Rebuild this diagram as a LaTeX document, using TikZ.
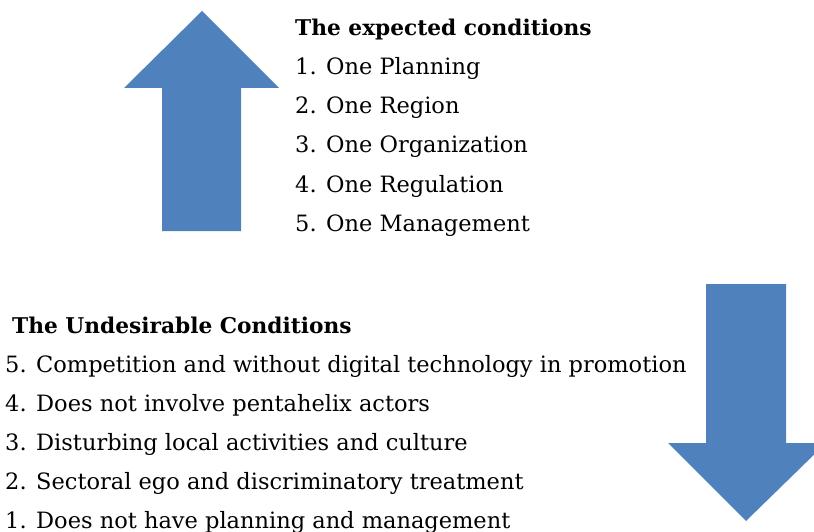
\documentclass[tikz,border=0pt]{standalone}
\usepackage{fontspec}
\setmainfont{DejaVu Serif}
\definecolor{arrowblue}{HTML}{4F81BD}
\tikzset{
  bigarrow/.style={fill=arrowblue, draw=none},
  txt/.style={anchor=base west, inner sep=0pt, font=\fontsize{22.5}{27}\selectfont},
  head/.style={txt, font=\fontsize{21.7}{26}\selectfont\bfseries},
}
\begin{document}
\begin{tikzpicture}[x=1pt,y=-1pt]
\useasboundingbox (0,0) rectangle (814,532);
% up arrow
\path[bigarrow] (202,11) -- (279,88) -- (241,88) -- (241,231) -- (162,231) -- (162,88) -- (124,88) -- cycle;
% down arrow
\path[bigarrow] (706,284) -- (786,284) -- (786,443) -- (826,443) -- (746,521) -- (668,443) -- (706,443) -- cycle;
% top text
\node[head] (h1) at (295,36) {The expected conditions};
\node[txt] (e1) at (295,75) {1. One Planning};
\node[txt] (e2) at (295,114) {2. One Region};
\node[txt] (e3) at (295,153) {3. One Organization};
\node[txt] (e4) at (295,192) {4. One Regulation};
\node[txt] (e5) at (295,231) {5. One Management};
% bottom text
\node[head] (h2) at (12,333) {The Undesirable Conditions};
\node[txt] (u5) at (5,372) {5. Competition and without digital technology in promotion};
\node[txt] (u4) at (5,411) {4. Does not involve pentahelix actors};
\node[txt] (u3) at (5,450) {3. Disturbing local activities and culture};
\node[txt] (u2) at (5,489) {2. Sectoral ego and discriminatory treatment};
\node[txt] (u1) at (5,528) {1. Does not have planning and management};
\end{tikzpicture}
\end{document}
